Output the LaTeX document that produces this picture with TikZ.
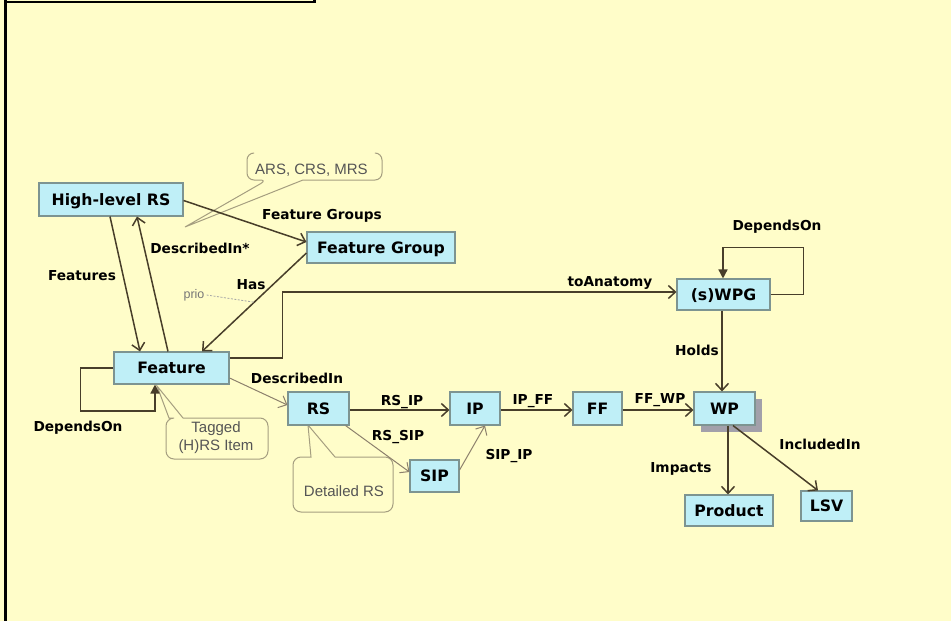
\documentclass[tikz,border=0pt]{standalone}
\usepackage{fontspec}
\setmainfont{DejaVu Sans}
\newfontfamily\calloutfont{Liberation Sans}
\usetikzlibrary{arrows.meta,shadows}

\definecolor{paper}{RGB}{255,253,201}
\definecolor{boxfill}{RGB}{191,239,247}
\definecolor{boxline}{RGB}{125,148,145}
\definecolor{linkdark}{RGB}{72,62,42}
\definecolor{linklight}{RGB}{140,128,108}
\definecolor{noteline}{RGB}{165,158,128}
\definecolor{notetext}{RGB}{85,85,85}
\definecolor{shade}{RGB}{162,160,170}

\tikzset{
  entity/.style={draw=boxline, fill=boxfill, line width=1.1pt, inner sep=0pt,
    text height=11.4pt, text depth=0pt, font=\fontsize{15.7}{18}\selectfont\bfseries},
  rel/.style={inner sep=0pt, text height=10pt, text depth=0pt,
    font=\fontsize{13.7}{16}\selectfont\bfseries},
  link/.style={draw=linkdark, line width=1.5pt, -{Straight Barb[length=7pt,width=13pt]}},
  thinlink/.style={draw=linklight, line width=1pt, -{Straight Barb[length=7pt,width=13pt]}},
  selflink/.style={draw=linkdark, line width=1.5pt, -{Triangle[length=9pt,width=9pt]}},
  note/.style={draw=noteline, line width=1pt},
  notetxt/.style={text=notetext, inner sep=0pt, font=\calloutfont\fontsize{15}{18}\selectfont},
}

\begin{document}
\begin{tikzpicture}[x=1pt,y=-1pt]
\useasboundingbox (0,0) rectangle (951,621);
\fill[paper] (0,0) rectangle (951,621);

% page frame
\draw[line width=2.5pt] (5.5,0) -- (5.5,621);
\draw[line width=2.5pt] (5.5,2) -- (314.5,2) -- (314.5,-2);

% callouts
\draw[note] (253,153) [rounded corners=7pt] -- (247,153) -- (247,180) -- (267,180)
  [sharp corners] -- (185,227) -- (303,180) [rounded corners=7pt] -- (382,180) -- (382,153) -- (376,153);
\node[notetxt] (arstxt) at (311.5,170) {ARS, CRS, MRS};

\draw[note, fill=paper] (157,386) -- (183,418) [rounded corners=8pt] -- (268,418) -- (268,459)
  -- (166,459) -- (166,418) [sharp corners] -- (169,418) -- cycle;
\node[notetxt, align=center] (tagtxt) at (216,438) {Tagged\\(H)RS Item};

\draw[note, fill=paper] (308,425) -- (335,457) [rounded corners=8pt] -- (393,457) -- (393,512)
  -- (293,512) -- (293,457) [sharp corners] -- (311,457) -- cycle;
\node[notetxt] (dettxt) at (344,491) {Detailed RS};

% entities
\node[entity, minimum width=144pt, minimum height=33pt] (hrs) at (111,199.5) {High-level RS};
\node[entity, minimum width=148pt, minimum height=31pt] (fg) at (381,247.5) {Feature Group};
\node[entity, minimum width=115pt, minimum height=32pt] (feat) at (171.5,368) {Feature};
\node[entity, minimum width=93pt, minimum height=31pt] (wpg) at (723.5,294.5) {(s)WPG};
\node[entity, minimum width=61pt, minimum height=33pt] (rs) at (318.5,408.5) {RS};
\node[entity, minimum width=50pt, minimum height=33pt] (ip) at (475,408.5) {IP};
\node[entity, minimum width=49pt, minimum height=33pt] (ff) at (597.5,408.5) {FF};
\node[entity, minimum width=61pt, minimum height=33pt,
  drop shadow={shadow xshift=7pt, shadow yshift=-7pt, fill=shade, opacity=1}] (wp) at (724.5,408.5) {WP};
\node[entity, minimum width=49pt, minimum height=32pt] (sip) at (434.5,476) {SIP};
\node[entity, minimum width=88pt, minimum height=31pt] (product) at (729,510.5) {Product};
\node[entity, minimum width=51pt, minimum height=30pt] (lsv) at (826.5,506) {LSV};

% relations
\draw[link] ([xshift=-1pt]hrs.south) -- ([xshift=-31.5pt]feat.north);
\draw[link] ([xshift=-3.5pt]feat.north) -- ([xshift=26pt]hrs.south);
\draw[link] ([yshift=-1pt]hrs.east) -- ([yshift=5.5pt]fg.west);
\draw[link] ([yshift=-5.5pt]fg.west) -- coordinate[pos=0.5] (hasmark) ([xshift=30.5pt]feat.north);
\draw[link] ([yshift=10pt]feat.east) -- ++(53,0) |- ([yshift=2.5pt]wpg.west);
\draw[selflink] (feat.west) -- ++(-33,0) -- ++(0,43) -| ([xshift=-16.5pt]feat.south);
\draw[selflink] (wpg.east) -- ++(33,0) -- ++(0,-47) -| ([xshift=-0.5pt]wpg.north);
\draw[link] ([xshift=-1.5pt]wpg.south) -- ([xshift=-1.5pt]wpg.south |- wp.north);
\draw[thinlink] ([yshift=-10pt]feat.east) -- ([yshift=3.5pt]rs.west);
\draw[link] ([yshift=-1.5pt]rs.east) -- ([yshift=-1.5pt]rs.east -| ip.west);
\draw[link] ([yshift=-1.5pt]ip.east) -- ([yshift=-1.5pt]ip.east -| ff.west);
\draw[link] ([yshift=-1.5pt]ff.east) -- ([yshift=-1.5pt]ff.east -| wp.west);
\draw[thinlink] ([xshift=-4pt]rs.south east) -- ([yshift=4pt]sip.west);
\draw[thinlink] ([yshift=6pt]sip.east) -- ([xshift=10pt]ip.south);
\draw[link] ([xshift=3.5pt]wp.south) -- ([xshift=3.5pt]wp.south |- product.north);
\draw[link] ([xshift=8.5pt]wp.south) -- ([xshift=-8.5pt]lsv.north);

% relation names
\node[rel] (lfeatures) at (82,275) {Features};
\node[rel] (ldescstar) at (200,248) {DescribedIn*};
\node[rel] (lfgroups) at (322,214) {Feature Groups};
\node[rel] (lhas) at (251,284) {Has};
\node[rel] (ldepfeat) at (78,426) {DependsOn};
\node[rel] (ldesc) at (297,378) {DescribedIn};
\node[rel] (lrsip) at (402,400) {RS\_IP};
\node[rel] (lrssip) at (398,435) {RS\_SIP};
\node[rel] (lsipip) at (509,454) {SIP\_IP};
\node[rel] (lipff) at (533,399) {IP\_FF};
\node[rel] (lffwp) at (660,398) {FF\_WP};
\node[rel] (lanat) at (610,281) {toAnatomy};
\node[rel] (ldepwpg) at (777,225) {DependsOn};
\node[rel] (lholds) at (697,350) {Holds};
\node[rel] (limpacts) at (681,467) {Impacts};
\node[rel] (lincl) at (820,444) {IncludedIn};

% priority remark on the Has relation
\node[text=notetext!80, inner sep=0pt, font=\calloutfont\fontsize{12.5}{14}\selectfont] (prio) at (194,295) {prio};
\draw[draw=gray!70, line width=0.8pt, dash pattern=on 2pt off 1.5pt] ([xshift=2pt]prio.east) -- (hasmark);
\end{tikzpicture}
\end{document}
